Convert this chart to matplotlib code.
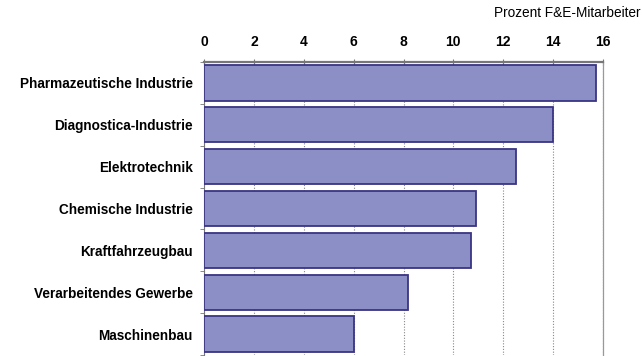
import matplotlib
matplotlib.use("Agg")
import matplotlib.pyplot as plt
import numpy as np

categories = ["Pharmazeutische Industrie", "Diagnostica-Industrie", "Elektrotechnik",
              "Chemische Industrie", "Kraftfahrzeugbau", "Verarbeitendes Gewerbe", "Maschinenbau"]
values = [15.7, 14.0, 12.5, 10.9, 10.7, 8.2, 6.0]
xticks = [0, 2, 4, 6, 8, 10, 12, 14, 16]

plt.rcParams['font.family'] = ['Liberation Sans', 'DejaVu Sans']

fig = plt.figure(figsize=(6.43, 3.56), dpi=100)
ax = fig.add_axes([204/643, 1/356, 399/643, 293/356])

y = np.arange(len(categories))
ax.barh(y, values, height=0.84, color="#8b8fc6", edgecolor="#3a3582", linewidth=1.3, zorder=3)

ax.set_xlim(0, 16)
ax.set_ylim(len(categories) - 0.5, -0.5)
ax.set_xticks(xticks)
ax.set_xticklabels([str(t) for t in xticks], fontweight='bold', fontsize=10)
ax.xaxis.tick_top()
ax.tick_params(axis='x', direction='inout', length=5, color='#777777', pad=7, labelsize=10)
ax.xaxis.grid(True, linestyle=(0, (1, 1.5)), color='#888888', linewidth=0.8, zorder=0)

ax.set_yticks(y)
ax.set_yticklabels(categories, fontweight='bold', fontsize=9.8)
ax.tick_params(axis='y', length=0, pad=8)
ax.set_yticks(np.arange(-0.5, len(categories) + 0.5, 1), minor=True)
ax.tick_params(axis='y', which='minor', length=3, color='#777777', direction='out')

ax.spines['bottom'].set_visible(False)
ax.spines['top'].set_color('#777777')
ax.spines['top'].set_linewidth(1.6)
ax.spines['right'].set_color('#999999')
ax.spines['right'].set_linewidth(0.9)
ax.spines['left'].set_color('#777777')

fig.text(641/643, 1 - 13/356, "Prozent F&E-Mitarbeiter", ha='right', va='center', fontsize=9.8)

fig.savefig("out.png", dpi=100)
